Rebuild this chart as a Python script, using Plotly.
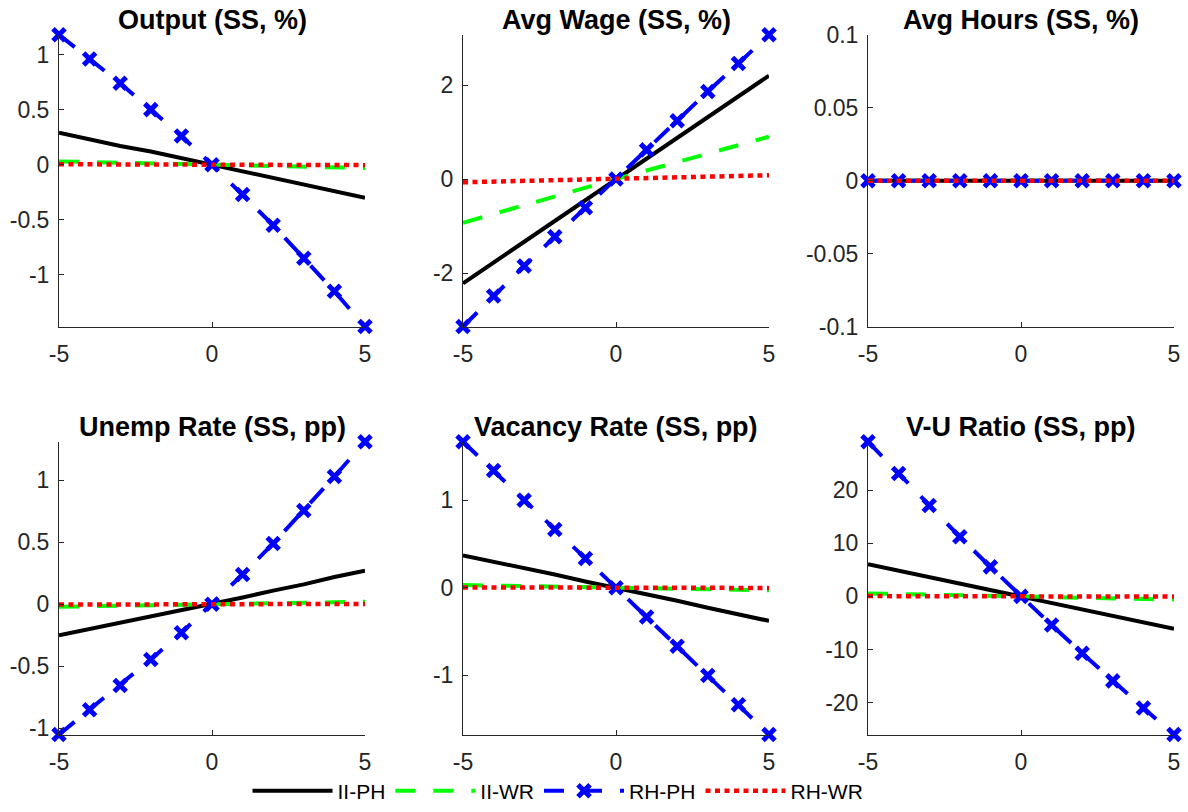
import plotly.graph_objects as go

# ---------------- data ----------------
x_vals = [-5, -4, -3, -2, -1, 0, 1, 2, 3, 4, 5]
series_names = ["II-PH", "II-WR", "RH-PH", "RH-WR"]
x_ticks = [-5, 0, 5]
x_ticklabels = ["-5", "0", "5"]

# Output (SS, %)
output_ii_ph = [0.29, 0.23, 0.17, 0.12, 0.06, 0.0, -0.06, -0.12, -0.18, -0.24, -0.30]
output_ii_wr = [0.03, 0.024, 0.018, 0.012, 0.006, 0.0, -0.006, -0.012, -0.018, -0.024, -0.03]
output_rh_ph = [1.18, 0.96, 0.74, 0.50, 0.26, 0.0, -0.27, -0.55, -0.85, -1.15, -1.47]
output_rh_wr = [0.004, 0.003, 0.002, 0.002, 0.001, 0.0, -0.001, -0.002, -0.002, -0.003, -0.004]
output_yticks = [-1, -0.5, 0, 0.5, 1]
output_yticklabels = ["-1", "-0.5", "0", "0.5", "1"]

# Avg Wage (SS, %)
wage_ii_ph = [-2.22, -1.78, -1.33, -0.89, -0.44, 0.0, 0.44, 0.88, 1.32, 1.76, 2.20]
wage_ii_wr = [-0.93, -0.74, -0.56, -0.37, -0.19, 0.0, 0.18, 0.36, 0.54, 0.72, 0.90]
wage_rh_ph = [-3.14, -2.49, -1.85, -1.23, -0.61, 0.0, 0.62, 1.24, 1.86, 2.46, 3.07]
wage_rh_wr = [-0.07, -0.056, -0.042, -0.028, -0.014, 0.0, 0.016, 0.032, 0.048, 0.064, 0.08]
wage_yticks = [-2, 0, 2]
wage_yticklabels = ["-2", "0", "2"]

# Avg Hours (SS, %)
hours_ii_ph = [0, 0, 0, 0, 0, 0, 0, 0, 0, 0, 0]
hours_ii_wr = [0, 0, 0, 0, 0, 0, 0, 0, 0, 0, 0]
hours_rh_ph = [0, 0, 0, 0, 0, 0, 0, 0, 0, 0, 0]
hours_rh_wr = [0, 0, 0, 0, 0, 0, 0, 0, 0, 0, 0]
hours_yticks = [-0.1, -0.05, 0, 0.05, 0.1]
hours_yticklabels = ["-0.1", "-0.05", "0", "0.05", "0.1"]
hours_ylim = [-0.1, 0.1]

# Unemp Rate (SS, pp)
unemp_ii_ph = [-0.25, -0.20, -0.15, -0.10, -0.05, 0.0, 0.055, 0.11, 0.16, 0.22, 0.27]
unemp_ii_wr = [-0.02, -0.016, -0.012, -0.008, -0.004, 0.0, 0.004, 0.008, 0.012, 0.016, 0.02]
unemp_rh_ph = [-1.05, -0.85, -0.655, -0.445, -0.23, 0.0, 0.24, 0.49, 0.755, 1.03, 1.31]
unemp_rh_wr = [-0.003, -0.002, -0.002, -0.001, -0.001, 0.0, 0.001, 0.001, 0.002, 0.002, 0.003]
unemp_yticks = [-1, -0.5, 0, 0.5, 1]
unemp_yticklabels = ["-1", "-0.5", "0", "0.5", "1"]

# Vacancy Rate (SS, pp)
vac_ii_ph = [0.37, 0.30, 0.22, 0.15, 0.07, 0.0, -0.075, -0.15, -0.23, -0.30, -0.38]
vac_ii_wr = [0.03, 0.024, 0.018, 0.012, 0.006, 0.0, -0.006, -0.012, -0.018, -0.024, -0.03]
vac_rh_ph = [1.67, 1.34, 1.00, 0.665, 0.335, 0.0, -0.335, -0.67, -1.005, -1.34, -1.68]
vac_rh_wr = [0.003, 0.002, 0.002, 0.001, 0.001, 0.0, -0.001, -0.001, -0.002, -0.002, -0.003]
vac_yticks = [-1, 0, 1]
vac_yticklabels = ["-1", "0", "1"]

# V-U Ratio (SS, pp)
vu_ii_ph = [6.05, 4.85, 3.63, 2.42, 1.21, 0.0, -1.21, -2.43, -3.65, -4.87, -6.1]
vu_ii_wr = [0.55, 0.44, 0.33, 0.22, 0.11, 0.0, -0.12, -0.24, -0.36, -0.48, -0.6]
vu_rh_ph = [29.1, 23.1, 17.1, 11.2, 5.55, 0.0, -5.4, -10.7, -15.9, -21.0, -26.0]
vu_rh_wr = [0.05, 0.04, 0.03, 0.02, 0.01, 0.0, -0.01, -0.02, -0.03, -0.04, -0.05]
vu_yticks = [-20, -10, 0, 10, 20]
vu_yticklabels = ["-20", "-10", "0", "10", "20"]

panels = [
    ("Output (SS, %)", [output_ii_ph, output_ii_wr, output_rh_ph, output_rh_wr], output_yticks, output_yticklabels, None),
    ("Avg Wage (SS, %)", [wage_ii_ph, wage_ii_wr, wage_rh_ph, wage_rh_wr], wage_yticks, wage_yticklabels, None),
    ("Avg Hours (SS, %)", [hours_ii_ph, hours_ii_wr, hours_rh_ph, hours_rh_wr], hours_yticks, hours_yticklabels, hours_ylim),
    ("Unemp Rate (SS, pp)", [unemp_ii_ph, unemp_ii_wr, unemp_rh_ph, unemp_rh_wr], unemp_yticks, unemp_yticklabels, None),
    ("Vacancy Rate (SS, pp)", [vac_ii_ph, vac_ii_wr, vac_rh_ph, vac_rh_wr], vac_yticks, vac_yticklabels, None),
    ("V-U Ratio (SS, pp)", [vu_ii_ph, vu_ii_wr, vu_rh_ph, vu_rh_wr], vu_yticks, vu_yticklabels, None),
]

# ---------------- styling ----------------
W, H = 1188, 812
FONT = "Liberation Sans, Arial, Helvetica, sans-serif"
AX_COLOR = "#262626"
# panel positions in window pixels
col_px = [(59, 365), (463, 769), (868, 1174)]
row_px = [(35, 329), (445, 740)]
title_y_px = [20, 430]
legend_center_px = (558, 797)


def fx(px):
    return px / W


def fy(py):
    return 1 - py / H


styles = [
    dict(line=dict(color="#000000", width=4, dash="solid"), mode="lines", marker=None),
    dict(line=dict(color="#00FF00", width=4, dash="20px,18px"), mode="lines", marker=None),
    dict(line=dict(color="#0000FF", width=4, dash="20px,18px"), mode="lines+markers",
         marker=dict(symbol="x-thin", size=12, line=dict(width=5, color="#0000FF"), color="#0000FF")),
    dict(line=dict(color="#FF0000", width=4.5, dash="5px,4.5px"), mode="lines", marker=None),
]

fig = go.Figure()
annotations = []
for i, (title, series, yt, ytl, ylim) in enumerate(panels):
    r, c = divmod(i, 3)
    n = i + 1
    xa = "x" if n == 1 else f"x{n}"
    ya = "y" if n == 1 else f"y{n}"
    for k, (name, vals) in enumerate(zip(series_names, series)):
        st = styles[k]
        kw = dict(x=x_vals, y=vals, name=name, mode=st["mode"], line=st["line"],
                  legendgroup=name, showlegend=(i == 0), xaxis=xa, yaxis=ya,
                  cliponaxis=False, hoverinfo="x+y+name")
        if st["marker"] is not None:
            kw["marker"] = st["marker"]
        fig.add_trace(go.Scatter(**kw))
    if ylim is None:
        allv = [v for s in series for v in s]
        ylim = [min(allv), max(allv)]
    x0, x1 = col_px[c]
    y0, y1 = row_px[r]
    xdom = [fx(x0), fx(x1)]
    ydom = [fy(y1), fy(y0)]
    common = dict(showline=True, linecolor=AX_COLOR, linewidth=1, mirror=False,
                  showgrid=False, zeroline=False, ticks="inside", ticklen=5,
                  tickcolor=AX_COLOR, tickwidth=1, automargin=False,
                  tickfont=dict(family=FONT, size=23, color=AX_COLOR))
    fig.update_layout(**{
        ("xaxis" if n == 1 else f"xaxis{n}"): dict(domain=xdom, anchor=ya, range=[-5, 5],
                                                   tickvals=x_ticks, ticktext=x_ticklabels,
                                                   ticklabelstandoff=7, **common),
        ("yaxis" if n == 1 else f"yaxis{n}"): dict(domain=ydom, anchor=xa, range=ylim,
                                                   tickvals=yt, ticktext=ytl,
                                                   ticklabelstandoff=4, **common),
    })
    annotations.append(dict(text=f"<b>{title}</b>", x=(xdom[0] + xdom[1]) / 2, xref="paper",
                            y=fy(title_y_px[r]), yref="paper", xanchor="center",
                            yanchor="middle", showarrow=False,
                            font=dict(family=FONT, size=27, color="#000000")))

fig.update_layout(
    width=W, height=H, autosize=False,
    margin=dict(l=0, r=0, t=0, b=0, pad=0),
    paper_bgcolor="white", plot_bgcolor="white",
    annotations=annotations,
    legend=dict(orientation="h", x=fx(legend_center_px[0]), xanchor="center",
                y=fy(legend_center_px[1]), yanchor="middle",
                font=dict(family=FONT, size=21, color="#000000"), itemwidth=80,
                bgcolor="rgba(0,0,0,0)", tracegroupgap=0),
    showlegend=True,
)

# the page body has a default 8px margin; remove it so the 1188x812 figure fills the window
fig.write_html("out.html", config={"displayModeBar": False},
               post_script="document.body.style.margin='0px';")
